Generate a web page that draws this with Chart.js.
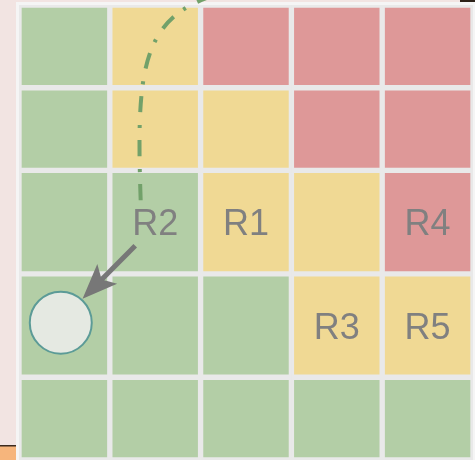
<!DOCTYPE html>
<html>
<head>
<meta charset="utf-8">
<script src="https://cdn.jsdelivr.net/npm/chart.js@4.4.1/dist/chart.umd.min.js"></script>
<style>
  html, body { margin: 0; padding: 0; background: #f2e4e2; }
  #wrap { width: 475px; height: 460px; position: relative; }
</style>
</head>
<body>
<div id="wrap"><canvas id="riskChart"></canvas></div>
<script>
// Kolom (dampak) dan baris (kemungkinan, dari bawah)
const impactLabels = ["1", "2", "3", "4", "5"];
const rowWeights = [1, 1.25, 1.25, 1, 1];

// Level tiap sel, baris kemungkinan 1 (bawah) sampai 5 (atas)
const cellLevels = [
  ["g", "g", "g", "g", "g"],
  ["g", "g", "g", "y", "y"],
  ["g", "g", "y", "y", "r"],
  ["g", "y", "y", "r", "r"],
  ["g", "y", "r", "r", "r"],
];

// Risiko yang ditandai
const riskNames = ["R1", "R2", "R3", "R4", "R5"];
const riskImpact = [3, 2, 4, 5, 5];
const riskLikelihood = [3, 3, 2, 3, 2];

// Target R2 dan panah / jejak (satuan sumbu)
const targetPoint = [0.46, 1.66];
const arrowFrom = [1.28, 2.59];
const arrowTo = [0.7, 1.95];
const trailPath = [[1.34, 3.14], [1.29, 4.71], [1.35, 5.32], [2.13, 5.61]];

const levelColors = { g: "#b3cea6", y: "#f0d994", r: "#de9898" };

function rowCenter(l) {
  let s = 0;
  for (let i = 0; i < l - 1; i++) s += rowWeights[i];
  return s + rowWeights[l - 1] / 2;
}

const backdrop = {
  id: "backdrop",
  beforeDraw(chart) {
    const c = chart.ctx;
    const a = chart.chartArea;
    c.save();
    c.fillStyle = "#f2e4e2";
    c.fillRect(0, 0, chart.width, chart.height);
    c.fillStyle = "#f5f5f5";
    c.fillRect(16, 2, chart.width - 16, chart.height - 2);
    c.fillStyle = "#e9e9e9";
    c.fillRect(a.left, a.top, a.right - a.left, a.bottom - a.top - 2);
    c.fillStyle = "#f6b57c";
    c.fillRect(0, 446, 16, 14);
    c.fillStyle = "#3b2a1e";
    c.fillRect(0, 445, 16, 1.5);
    c.fillStyle = "#2d2118";
    c.fillRect(460, 0, 15, 2);
    c.restore();
  },
};

const overlay = {
  id: "overlay",
  afterDatasetsDraw(chart) {
    const c = chart.ctx;
    const xs = chart.scales.xo;
    const ys = chart.scales.y;
    const px = (u) => xs.getPixelForValue(u);
    const py = (u) => ys.getPixelForValue(u);
    c.save();

    // jejak putus-putus
    c.strokeStyle = "#72a16a";
    c.lineWidth = 4;
    c.lineCap = "butt";
    c.setLineDash([16, 12, 3, 13]);
    c.beginPath();
    c.moveTo(px(trailPath[0][0]), py(trailPath[0][1]));
    c.bezierCurveTo(
      px(trailPath[1][0]), py(trailPath[1][1]),
      px(trailPath[2][0]), py(trailPath[2][1]),
      px(trailPath[3][0]), py(trailPath[3][1])
    );
    c.stroke();
    c.setLineDash([]);

    // label risiko
    c.fillStyle = "#808080";
    c.font = "36px 'Liberation Sans', Arial, sans-serif";
    c.textAlign = "center";
    c.textBaseline = "alphabetic";
    riskNames.forEach((name, i) => {
      const x = px(riskImpact[i] - 0.5);
      const y = py(rowCenter(riskLikelihood[i]));
      c.fillText(name, x, y + 13);
    });

    // lingkaran target
    c.beginPath();
    c.arc(px(targetPoint[0]), py(targetPoint[1]), 31, 0, Math.PI * 2);
    c.fillStyle = "#e5e9e2";
    c.fill();
    c.lineWidth = 2;
    c.strokeStyle = "#5c9b97";
    c.stroke();

    // panah
    const x0 = px(arrowFrom[0]), y0 = py(arrowFrom[1]);
    const x1 = px(arrowTo[0]), y1 = py(arrowTo[1]);
    const ang = Math.atan2(y1 - y0, x1 - x0);
    const cos = Math.cos(ang), sin = Math.sin(ang);
    const headLen = 35, headW = 14, notch = 27;
    c.strokeStyle = "#777777";
    c.fillStyle = "#777777";
    c.lineWidth = 5;
    c.beginPath();
    c.moveTo(x0, y0);
    c.lineTo(x1 - cos * (notch - 2), y1 - sin * (notch - 2));
    c.stroke();
    c.beginPath();
    c.moveTo(x1, y1);
    c.lineTo(x1 - cos * headLen - sin * headW, y1 - sin * headLen + cos * headW);
    c.lineTo(x1 - cos * notch, y1 - sin * notch);
    c.lineTo(x1 - cos * headLen + sin * headW, y1 - sin * headLen - cos * headW);
    c.closePath();
    c.fill();

    c.restore();
  },
};

window.onload = () => {
  const ctx = document.getElementById("riskChart").getContext("2d");
  new Chart(ctx, {
    type: "bar",
    data: {
      labels: impactLabels,
      datasets: rowWeights.map((w, r) => ({
        label: "L" + (r + 1),
        data: impactLabels.map(() => w),
        backgroundColor: cellLevels[r].map((lv) => levelColors[lv]),
        borderColor: "#e9e9e9",
        borderWidth: 3,
        borderSkipped: false,
        categoryPercentage: 1,
        barPercentage: 1,
      })),
    },
    options: {
      responsive: true,
      maintainAspectRatio: false,
      animation: false,
      layout: { padding: { left: 19, right: 2, top: 5, bottom: 0 } },
      plugins: { legend: { display: false }, tooltip: { enabled: false } },
      scales: {
        x: { stacked: true, display: false },
        xo: { type: "linear", axis: "x", min: 0, max: 5, offset: false, display: false },
        y: { stacked: true, min: 0, max: 5.5, display: false },
      },
    },
    plugins: [backdrop, overlay],
  });
};
</script>
</body>
</html>
